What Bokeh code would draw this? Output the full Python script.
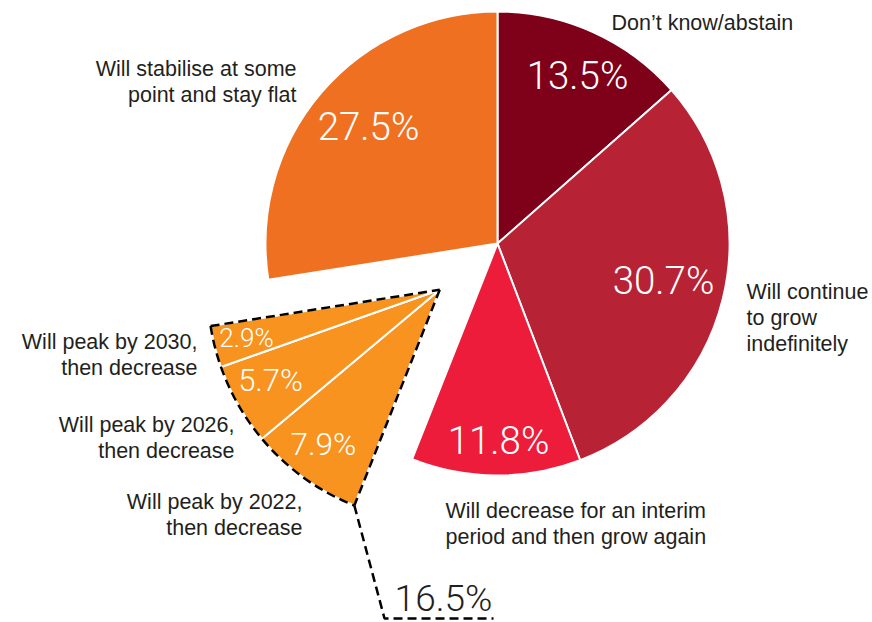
import math
from bokeh.plotting import figure
from bokeh.models import Range1d
from bokeh.core.properties import value
from bokeh.embed import file_html
from bokeh.resources import INLINE

# ---------------- data ----------------
categories = [
    "Don’t know/abstain",
    "Will continue to grow indefinitely",
    "Will decrease for an interim period and then grow again",
    "Will peak, then decrease",
    "Will stabilise at some point and stay flat",
]
shares = [13.5, 30.7, 11.8, 16.5, 27.5]
colors = ["#7f0019", "#b82235", "#ec1c3a", "#f7931e", "#f07022"]

peak_categories = [
    "Will peak by 2022, then decrease",
    "Will peak by 2026, then decrease",
    "Will peak by 2030, then decrease",
]
peak_shares = [7.9, 5.7, 2.9]
peak_color = "#f7931e"

label_lines = {
    "Don’t know/abstain": ["Don’t know/abstain"],
    "Will continue to grow indefinitely": ["Will continue", "to grow", "indefinitely"],
    "Will decrease for an interim period and then grow again": ["Will decrease for an interim", "period and then grow again"],
    "Will stabilise at some point and stay flat": ["Will stabilise at some", "point and stay flat"],
    "Will peak by 2022, then decrease": ["Will peak by 2022,", "then decrease"],
    "Will peak by 2026, then decrease": ["Will peak by 2026,", "then decrease"],
    "Will peak by 2030, then decrease": ["Will peak by 2030,", "then decrease"],
}

# ---------------- layout (page pixel coordinates, y downwards) ----------------
CX, CY = 497, 243
R = 232
EXPLODE = 74
EXPLODED = 3  # index of the exploded (peak) slice

LABEL_FONT = "Liberation Sans"
LABEL_SIZE = "21.5px"
PCT_FONT = "Roboto Light"
TEXT_COLOR = "#231f20"
DASH = "9 5"
DASH_W = 2.5

# label anchors: (x, y of first line middle, align)
label_pos = {
    "Don’t know/abstain": (611, 22, "left"),
    "Will continue to grow indefinitely": (746, 291, "left"),
    "Will decrease for an interim period and then grow again": (445, 510, "left"),
    "Will stabilise at some point and stay flat": (296, 68, "right"),
    "Will peak by 2022, then decrease": (302, 501, "right"),
    "Will peak by 2026, then decrease": (234, 424, "right"),
    "Will peak by 2030, then decrease": (197, 341, "right"),
}
LINE_STEP = 26

pct_pos_main = [(577, 75, 38.5), (663, 280, 38.5), (498, 440, 38.5), None, (368, 126, 38.5)]
pct_pos_peak = [(323, 444, 31.5), (270, 380, 31), (246, 337, 26)]
total_pct_pos = (443, 598, 37)
leader_pts = [(384, 618), (493, 618)]


def Y(v):
    return -v


def ang(frac):
    # clockwise from 12 o'clock -> bokeh standard radians
    return math.pi / 2 - 2 * math.pi * frac


W, H = 872, 622
p = figure(width=W, height=H, x_range=Range1d(0, W), y_range=Range1d(-H, 0),
           output_backend="svg", toolbar_location=None, min_border=0,
           x_axis_location=None, y_axis_location=None, outline_line_color=None)
p.grid.visible = False
p.background_fill_color = "white"
p.border_fill_color = "white"

total = sum(shares)
cum = 0.0
bounds = []
for s in shares:
    bounds.append((cum / total, (cum + s) / total))
    cum += s

# main wedges
for i, (f0, f1) in enumerate(bounds):
    if i == EXPLODED:
        continue
    p.wedge(x=[CX], y=[Y(CY)], radius=R, start_angle=ang(f1), end_angle=ang(f0),
            direction="anticlock", fill_color=colors[i], line_color="white", line_width=2)

# exploded slice
f0, f1 = bounds[EXPLODED]
fm = (f0 + f1) / 2
ax = CX + EXPLODE * math.sin(2 * math.pi * fm)
ay = CY - EXPLODE * math.cos(2 * math.pi * fm)

c = f0
for s in peak_shares:
    g0, g1 = c, c + s / total
    c = g1
    p.wedge(x=[ax], y=[Y(ay)], radius=R, start_angle=ang(g1), end_angle=ang(g0),
            direction="anticlock", fill_color=peak_color, line_color="white", line_width=2)


def on_circle(frac):
    return ax + R * math.sin(2 * math.pi * frac), ay - R * math.cos(2 * math.pi * frac)


bx, by = on_circle(f0)
tx, ty = on_circle(f1)
# dashed outline
p.segment(x0=[tx, ax], y0=[Y(ty), Y(ay)], x1=[ax, bx], y1=[Y(ay), Y(by)],
          line_color="black", line_width=DASH_W, line_dash=DASH)
p.arc(x=[ax], y=[Y(ay)], radius=R, start_angle=ang(f1), end_angle=ang(f0),
      direction="anticlock", line_color="black", line_width=DASH_W, line_dash=DASH)
# leader line to total
lx = [bx] + [q[0] for q in leader_pts]
ly = [Y(by)] + [Y(q[1]) for q in leader_pts]
p.line(lx, ly, line_color="black", line_width=DASH_W, line_dash=DASH)

# percentage labels
for i, s in enumerate(shares):
    pos = pct_pos_main[i]
    if pos is None:
        continue
    p.text(x=[pos[0]], y=[Y(pos[1])], text=[f"{s:.1f}%"], text_color="white",
           text_font=value(PCT_FONT), text_font_size=f"{pos[2]}px",
           text_align="center", text_baseline="middle")
for s, pos in zip(peak_shares, pct_pos_peak):
    p.text(x=[pos[0]], y=[Y(pos[1])], text=[f"{s:.1f}%"], text_color="white",
           text_font=value(PCT_FONT), text_font_size=f"{pos[2]}px",
           text_align="center", text_baseline="middle")
p.text(x=[total_pct_pos[0]], y=[Y(total_pct_pos[1])], text=[f"{shares[EXPLODED]:.1f}%"],
       text_color=TEXT_COLOR, text_font=value(PCT_FONT), text_font_size=f"{total_pct_pos[2]}px",
       text_align="center", text_baseline="middle")

# category labels
for name, (x, y, align) in label_pos.items():
    lines = label_lines[name]
    for k, line in enumerate(lines):
        p.text(x=[x], y=[Y(y + k * LINE_STEP)], text=[line], text_color=TEXT_COLOR,
               text_font=value(LABEL_FONT), text_font_size=LABEL_SIZE,
               text_align=align, text_baseline="middle")

open("out.html", "w").write(file_html(p, INLINE))
